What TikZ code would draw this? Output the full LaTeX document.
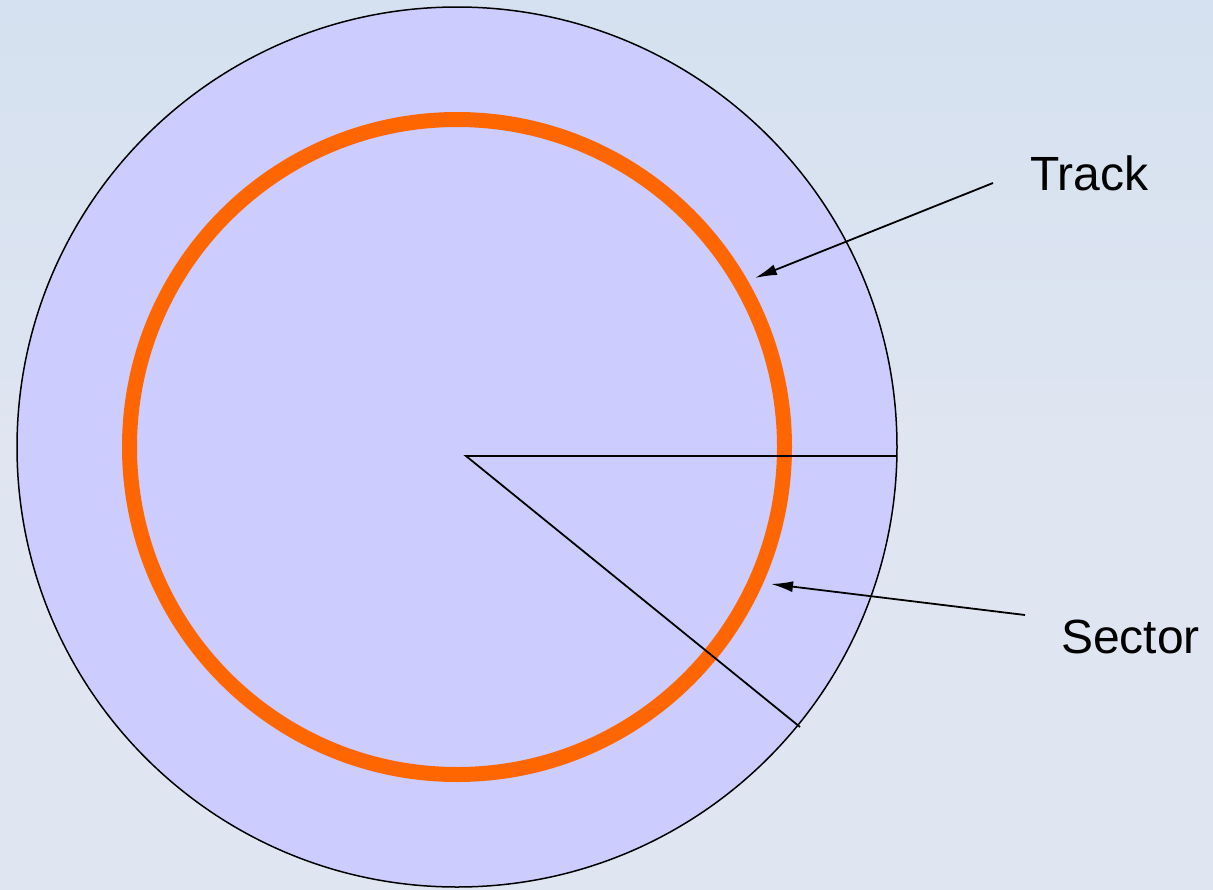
\documentclass[tikz,border=0pt]{standalone}
\usepackage{fontspec}
\setmainfont{Liberation Sans}
\usetikzlibrary{arrows.meta}
\begin{document}
\begin{tikzpicture}[x=1pt,y=-1pt,
  label/.style={font=\fontsize{48}{56}\selectfont, text=black, inner sep=0pt},
  pointer/.style={line width=1.8pt, -{Latex[length=22pt,width=11pt]}}]
\shade[top color={rgb,255:red,213;green,225;blue,240}, bottom color={rgb,255:red,224;green,230;blue,241}, middle color={rgb,255:red,223;green,229;blue,241}] (0,0) rectangle (1213,889);
\useasboundingbox (0,0) rectangle (1213,889);
\coordinate (c) at (457,447);
\draw[line width=1.5pt, fill={rgb,255:red,204;green,204;blue,255}] (c) circle[radius=440];
\draw[line width=15pt, draw={rgb,255:red,255;green,102;blue,0}] (c) circle[radius=327.5];
\coordinate (o) at (466,456);
\coordinate (s1) at (897,456);
\coordinate (s2) at (800,727);
\draw[line width=1.8pt] (s1) -- (o) -- (s2);
\node[label, anchor=base west] (track) at (1030,190) {Track};
\node[label, anchor=base west] (sector) at (1061,653) {Sector};
\coordinate (t0) at (993,183);
\coordinate (t1) at (755,278);
\coordinate (q0) at (1025,615);
\coordinate (q1) at (771,584);
\draw[pointer] (t0) -- (t1);
\draw[pointer] (q0) -- (q1);
\end{tikzpicture}
\end{document}
